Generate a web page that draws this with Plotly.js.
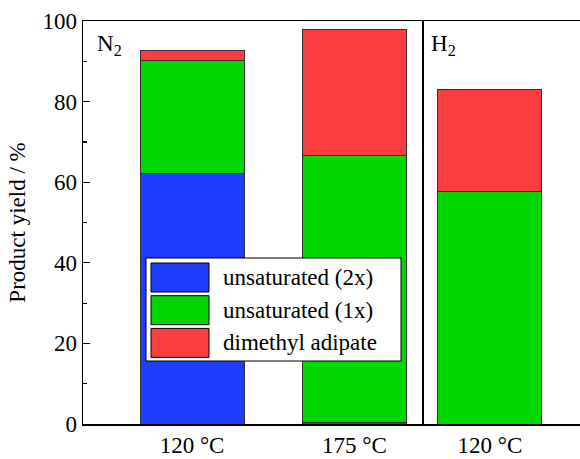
<!DOCTYPE html>
<html>
<head>
<meta charset="utf-8">
<script src="https://cdn.plot.ly/plotly-3.0.1.min.js"></script>
<style>html,body{margin:0;padding:0;background:#fff;}#chart{width:580px;height:459px;}</style>
</head>
<body>
<div id="chart"></div>
<script>
// Categories
const catsN2 = ['120 °C', '175 °C'];
const catsH2 = ['120 °C'];
// Series values (product yield, %)
const unsat2xN2 = [62.2, 0.4];
const unsat1xN2 = [27.9, 66.3];
const dmaN2     = [2.5, 31.1];
const unsat2xH2 = [0];
const unsat1xH2 = [57.8];
const dmaH2     = [25.3];
// Series names and colours
const seriesNames = ['unsaturated (2x)', 'unsaturated (1x)', 'dimethyl adipate'];
const seriesColors = ['#1f3dff', '#00d600', '#fc3d3f'];

const FONT = 'Liberation Serif';
const W = 580, H = 459;
const L = 83, R = 0, T = 21, B = 35;
const pw = W - L - R, ph = H - T - B;
const px = v => (v - L) / pw;
const py = v => (H - B - v) / ph;
const divX = px(423);

const valsN2 = [unsat2xN2, unsat1xN2, dmaN2];
const valsH2 = [unsat2xH2, unsat1xH2, dmaH2];
const traces = [];
for (let i = 0; i < 3; i++) {
  traces.push({type: 'bar', x: catsN2, y: valsN2[i], name: seriesNames[i], xaxis: 'x', yaxis: 'y',
    width: 0.64, marker: {color: seriesColors[i], line: {color: '#333', width: 1}}, showlegend: false});
  traces.push({type: 'bar', x: catsH2, y: valsH2[i], name: seriesNames[i], xaxis: 'x2', yaxis: 'y',
    width: 0.64, marker: {color: seriesColors[i], line: {color: '#333', width: 1}}, showlegend: false});
}

// custom legend (large swatches) in paper coords
const shapes = [];
const annotations = [];
shapes.push({type: 'rect', xref: 'paper', yref: 'paper', x0: px(146), x1: px(401), y0: py(361), y1: py(258),
  fillcolor: '#fff', line: {color: '#000', width: 1}, layer: 'above'});
for (let i = 0; i < 3; i++) {
  const top = 263 + i * 32.7;
  shapes.push({type: 'rect', xref: 'paper', yref: 'paper', x0: px(151), x1: px(209), y0: py(top + 29), y1: py(top),
    fillcolor: seriesColors[i], line: {color: '#000', width: 1}, layer: 'above'});
  annotations.push({xref: 'paper', yref: 'paper', x: px(221), y: py(top + 14.5), xanchor: 'left', yanchor: 'middle',
    text: seriesNames[i], showarrow: false, font: {family: FONT, size: 23, color: '#000'}});
}
// panel divider
shapes.push({type: 'line', xref: 'paper', yref: 'paper', x0: divX, x1: divX, y0: 0, y1: 1,
  line: {color: '#000', width: 2}});
annotations.push({xref: 'paper', yref: 'paper', x: px(95), y: py(29), xanchor: 'left', yanchor: 'top',
  text: 'N<sub>2</sub>', showarrow: false, font: {family: FONT, size: 23, color: '#000'}});
annotations.push({xref: 'paper', yref: 'paper', x: px(429), y: py(29), xanchor: 'left', yanchor: 'top',
  text: 'H<sub>2</sub>', showarrow: false, font: {family: FONT, size: 23, color: '#000'}});

const layout = {
  width: W, height: H,
  margin: {l: L, r: R, t: T, b: B, pad: 0},
  paper_bgcolor: '#fff', plot_bgcolor: '#fff',
  barmode: 'stack',
  showlegend: false,
  font: {family: FONT, size: 23, color: '#000'},
  xaxis: {domain: [0, divX], range: [-0.671, 1.4215], type: 'category', showline: true, mirror: true,
    linecolor: '#000', linewidth: 1.5, ticks: '', showgrid: false, zeroline: false,
    tickfont: {family: FONT, size: 23, color: '#000'}},
  xaxis2: {domain: [divX, 1], range: [-0.412, 0.554], type: 'category', anchor: 'y', showline: true, mirror: true,
    linecolor: '#000', linewidth: 1.5, ticks: '', showgrid: false, zeroline: false,
    tickfont: {family: FONT, size: 23, color: '#000'}},
  yaxis: {range: [0, 100], dtick: 20, showline: true, linecolor: '#000', linewidth: 1.5,
    ticks: 'inside', ticklen: 7, tickwidth: 1.2, tickcolor: '#000',
    minor: {dtick: 10, ticks: 'inside', ticklen: 4, tickwidth: 1.2, tickcolor: '#000', showgrid: false},
    showgrid: false, zeroline: false,
    tickfont: {family: FONT, size: 23, color: '#000'},
    title: {text: 'Product yield / %', font: {family: FONT, size: 23, color: '#000'}, standoff: 10}},
  yaxis2: {overlaying: 'y', side: 'right', anchor: 'x2', range: [0, 100], showline: false,
    ticks: 'inside', ticklen: 4, tickwidth: 1.2, tickcolor: '#000',
    tickmode: 'linear', tick0: 15.1, dtick: 22.33, showticklabels: false, showgrid: false, zeroline: false},
  shapes: shapes,
  annotations: annotations
};

Plotly.newPlot('chart', traces, layout, {displayModeBar: false, staticPlot: true});
</script>
</body>
</html>
